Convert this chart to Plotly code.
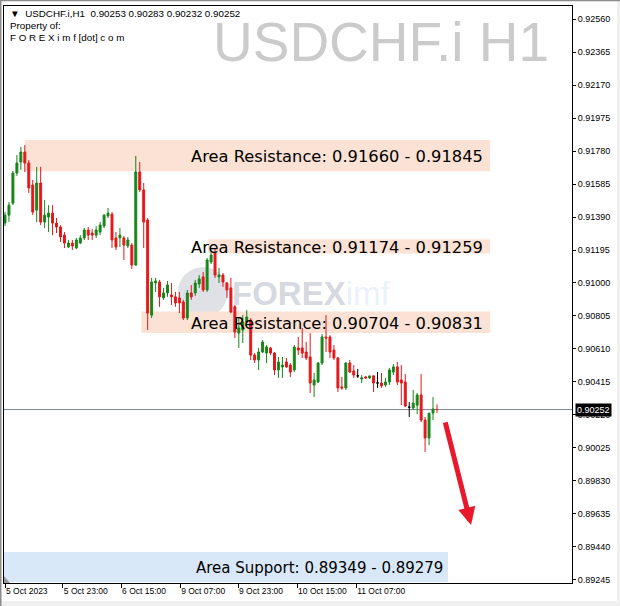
import plotly.graph_objects as go

# ---------------- data (USDCHF.i H1) ----------------
opens = [0.91354, 0.91401, 0.91472, 0.91650, 0.91715, 0.91774, 0.91709, 0.91579, 0.91431, 0.91591,
         0.91360, 0.91390, 0.91413, 0.91354, 0.91331, 0.91283, 0.91213, 0.91236, 0.91207, 0.91236,
         0.91266, 0.91313, 0.91295, 0.91283, 0.91301, 0.91337, 0.91396, 0.91407, 0.91266, 0.91266,
         0.91266, 0.91219, 0.91224, 0.91106, 0.91656, 0.91550, 0.91372, 0.90810, 0.91000, 0.91006,
         0.90912, 0.90941, 0.90929, 0.90918, 0.90912, 0.90888, 0.90793, 0.90941, 0.90941, 0.90994,
         0.91036, 0.90959, 0.91124, 0.91177, 0.91036, 0.91047, 0.91000, 0.90971, 0.90859, 0.90704,
         0.90722, 0.90769, 0.90781, 0.90574, 0.90545, 0.90592, 0.90586, 0.90616, 0.90586, 0.90486,
         0.90504, 0.90533, 0.90515, 0.90486, 0.90616, 0.90616, 0.90592, 0.90563, 0.90397, 0.90415,
         0.90527, 0.90681, 0.90681, 0.90604, 0.90557, 0.90386, 0.90380, 0.90527, 0.90480, 0.90451,
         0.90433, 0.90445, 0.90439, 0.90451, 0.90409, 0.90409, 0.90397, 0.90415, 0.90474, 0.90504,
         0.90427, 0.90415, 0.90266, 0.90261, 0.90278, 0.90338, 0.90190, 0.90084, 0.90231, 0.90253]
highs = [0.91419, 0.91478, 0.91662, 0.91756, 0.91804, 0.91815, 0.91727, 0.91609, 0.91686, 0.91686,
         0.91490, 0.91460, 0.91460, 0.91384, 0.91342, 0.91301, 0.91254, 0.91254, 0.91266, 0.91283,
         0.91325, 0.91331, 0.91319, 0.91337, 0.91360, 0.91407, 0.91443, 0.91419, 0.91301, 0.91325,
         0.91278, 0.91272, 0.91236, 0.91751, 0.91715, 0.91591, 0.91384, 0.91030, 0.91030, 0.91018,
         0.90971, 0.91012, 0.91000, 0.90947, 0.90947, 0.90900, 0.90959, 0.90988, 0.91018, 0.91047,
         0.91065, 0.91148, 0.91195, 0.91207, 0.91089, 0.91059, 0.91006, 0.91030, 0.90870, 0.90793,
         0.90810, 0.90840, 0.90793, 0.90586, 0.90616, 0.90663, 0.90633, 0.90622, 0.90592, 0.90563,
         0.90563, 0.90557, 0.90527, 0.90633, 0.90681, 0.90734, 0.90651, 0.90704, 0.90468, 0.90533,
         0.90698, 0.90810, 0.90692, 0.90633, 0.90563, 0.90445, 0.90533, 0.90545, 0.90515, 0.90492,
         0.90456, 0.90451, 0.90451, 0.90456, 0.90474, 0.90468, 0.90439, 0.90498, 0.90521, 0.90533,
         0.90515, 0.90462, 0.90296, 0.90368, 0.90350, 0.90462, 0.90208, 0.90231, 0.90326, 0.90283]
lows = [0.91337, 0.91360, 0.91460, 0.91633, 0.91668, 0.91656, 0.91532, 0.91401, 0.91360, 0.91342,
        0.91325, 0.91301, 0.91283, 0.91295, 0.91242, 0.91207, 0.91207, 0.91195, 0.91201, 0.91230,
        0.91254, 0.91254, 0.91254, 0.91266, 0.91283, 0.91325, 0.91384, 0.91207, 0.91195, 0.91213,
        0.91136, 0.91207, 0.91083, 0.91101, 0.91538, 0.91207, 0.90722, 0.90793, 0.90947, 0.90859,
        0.90900, 0.90918, 0.90870, 0.90859, 0.90822, 0.90781, 0.90781, 0.90900, 0.90924, 0.90971,
        0.90947, 0.90947, 0.91112, 0.91030, 0.91000, 0.90977, 0.90912, 0.90822, 0.90675, 0.90616,
        0.90645, 0.90763, 0.90545, 0.90527, 0.90486, 0.90586, 0.90527, 0.90574, 0.90456, 0.90439,
        0.90439, 0.90498, 0.90445, 0.90474, 0.90574, 0.90557, 0.90545, 0.90350, 0.90327, 0.90409,
        0.90515, 0.90592, 0.90557, 0.90545, 0.90356, 0.90368, 0.90368, 0.90468, 0.90439, 0.90439,
        0.90409, 0.90433, 0.90433, 0.90356, 0.90380, 0.90380, 0.90386, 0.90397, 0.90456, 0.90397,
        0.90278, 0.90266, 0.90208, 0.90249, 0.90225, 0.90178, 0.90001, 0.90042, 0.90190, 0.90232]
closes = [0.91401, 0.91460, 0.91650, 0.91709, 0.91774, 0.91709, 0.91562, 0.91419, 0.91591, 0.91360,
          0.91401, 0.91413, 0.91354, 0.91331, 0.91272, 0.91236, 0.91236, 0.91219, 0.91254, 0.91266,
          0.91313, 0.91283, 0.91283, 0.91313, 0.91342, 0.91401, 0.91413, 0.91254, 0.91213, 0.91283,
          0.91224, 0.91254, 0.91106, 0.91656, 0.91550, 0.91360, 0.90822, 0.91006, 0.91012, 0.90918,
          0.90941, 0.90988, 0.90918, 0.90882, 0.90882, 0.90793, 0.90941, 0.90918, 0.91000, 0.91024,
          0.90959, 0.91136, 0.91165, 0.91047, 0.91047, 0.91006, 0.90959, 0.90828, 0.90710, 0.90734,
          0.90769, 0.90799, 0.90574, 0.90545, 0.90592, 0.90651, 0.90622, 0.90586, 0.90486, 0.90533,
          0.90515, 0.90504, 0.90474, 0.90622, 0.90604, 0.90586, 0.90557, 0.90409, 0.90427, 0.90527,
          0.90681, 0.90675, 0.90592, 0.90557, 0.90380, 0.90380, 0.90527, 0.90474, 0.90456, 0.90451,
          0.90439, 0.90439, 0.90451, 0.90409, 0.90409, 0.90392, 0.90415, 0.90486, 0.90504, 0.90415,
          0.90409, 0.90273, 0.90266, 0.90290, 0.90338, 0.90190, 0.90084, 0.90231, 0.90255, 0.90252]

time_tick_pos = [0, 14.6, 29.3, 44.2, 58.8, 73.7, 88.6]
time_tick_text = ["5 Oct 2023", "5 Oct 23:00", "6 Oct 15:00", "9 Oct 07:00",
                  "9 Oct 23:00", "10 Oct 15:00", "11 Oct 07:00"]

price_ticks = [0.92560, 0.92365, 0.92170, 0.91975, 0.91780, 0.91585, 0.91390, 0.91195, 0.91000,
               0.90805, 0.90610, 0.90415, 0.90220, 0.90025, 0.89830, 0.89635, 0.89440, 0.89245]
price_tick_text = ["0.92560", "0.92365", "0.92170", "0.91975", "0.91780", "0.91585", "0.91390",
                   "0.91195", "0.91000", "0.90805", "0.90610", "0.90415", "0.90220", "0.90025",
                   "0.89830", "0.89635", "0.89440", "0.89245"]

zone_labels = ["Area Resistance: 0.91660 - 0.91845", "Area Resistance: 0.91174 - 0.91259",
               "Area Resistance: 0.90704 - 0.90831", "Area Support: 0.89349 - 0.89279"]
zone_low = [0.91660, 0.91174, 0.90704, 0.89233]
zone_high = [0.91845, 0.91259, 0.90831, 0.89410]
zone_start = [5.0, 51.3, 34.4, -0.25]
zone_end = [122.4, 122.4, 122.4, 111.8]
zone_kind = ["res", "res", "res", "sup"]

current_price = 0.90252
arrow_from = (111.0, 0.90185)
arrow_to = (117.6, 0.89570)

symbol_title = "USDCHF.i,H1  0.90253 0.90283 0.90232 0.90252"
watermark = "USDCHF.i H1"

# ---------------- styling ----------------
GREEN = "#17861a"
RED = "#e3181b"
RES_FILL = "#fbe2d4"
SUP_FILL = "#d9e8f8"
AX_FONT = dict(family="Liberation Sans, Arial, sans-serif", size=9, color="#000000")
X_FONT = dict(family="Liberation Sans, Arial, sans-serif", size=8.5, color="#000000")

W, H = 620, 606
ML, MR, MT, MB = 4, 48, 6, 23
X_RANGE = [-0.252, 143.07]
Y_RANGE = [0.89227, 0.92637]

idx = list(range(len(opens)))
main_i = [i for i in idx if opens[i] != closes[i]]
doji_i = [i for i in idx if opens[i] == closes[i]]

fig = go.Figure()
fig.add_trace(go.Candlestick(
    x=[i for i in main_i],
    open=[opens[i] for i in main_i], high=[highs[i] for i in main_i],
    low=[lows[i] for i in main_i], close=[closes[i] for i in main_i],
    increasing=dict(line=dict(color=GREEN, width=1), fillcolor=GREEN),
    decreasing=dict(line=dict(color=RED, width=1), fillcolor=RED),
    whiskerwidth=0, showlegend=False, hoverinfo="skip"))
fig.add_trace(go.Candlestick(
    x=[i for i in doji_i],
    open=[opens[i] for i in doji_i], high=[highs[i] for i in doji_i],
    low=[lows[i] for i in doji_i], close=[closes[i] for i in doji_i],
    increasing=dict(line=dict(color="#000000", width=1), fillcolor="#000000"),
    decreasing=dict(line=dict(color="#000000", width=1), fillcolor="#000000"),
    whiskerwidth=0, showlegend=False, hoverinfo="skip"))

shapes = []
annotations = []

# zones
for lab, lo, hi, x0, x1, kind in zip(zone_labels, zone_low, zone_high, zone_start, zone_end, zone_kind):
    shapes.append(dict(type="rect", xref="x", yref="y", x0=x0, x1=x1, y0=lo, y1=hi,
                       fillcolor=RES_FILL if kind == "res" else SUP_FILL,
                       line=dict(width=0), layer="below"))
    x_right = (485 - ML) / 568 if kind == "res" else (445 - ML) / 568
    annotations.append(dict(text=lab, xref="paper", yref="y", x=x_right, y=(lo + hi) / 2,
                            xanchor="right", yanchor="middle", showarrow=False, yshift=-1,
                            font=dict(family="DejaVu Sans, sans-serif",
                                      size=16.3 if kind == "res" else 15.0, color="#000000")))

# current price line
shapes.append(dict(type="line", xref="paper", yref="y", x0=0, x1=1, y0=current_price, y1=current_price,
                   line=dict(color="#7d8895", width=1), layer="below"))

# logo circle (watermark)
shapes.append(dict(type="circle", xref="paper", yref="paper", x0=0.3063, x1=0.3944, y0=0.4610, y1=0.5477,
                   fillcolor="rgba(196,200,212,0.55)", line=dict(width=0), layer="below"))

# small scroll triangle bottom-left
shapes.append(dict(type="path", xref="paper", yref="paper",
                   path="M 0,0 L 0.0106,0 L 0,0.0121 Z", fillcolor="#9a9a9a", line=dict(width=0)))

# window frame strips (paper pixels)
def px_rect(x0, y0, x1, y1, color):
    return dict(type="rect", xref="paper", yref="paper",
                x0=(x0 - ML) / 568, x1=(x1 - ML) / 568,
                y0=(583 - y1) / 577, y1=(583 - y0) / 577,
                fillcolor=color, line=dict(width=0), layer="above")

shapes.append(px_rect(0, 601, 620, 606, "#f0f0f0"))
shapes.append(px_rect(617, 0, 620, 606, "#f0f0f0"))
shapes.append(px_rect(0, 0, 1.5, 606, "#8c8c8c"))
shapes.append(px_rect(0, 0, 620, 1.2, "#8c8c8c"))

# arrow
annotations.append(dict(x=arrow_to[0], y=arrow_to[1], ax=arrow_from[0], ay=arrow_from[1],
                        xref="x", yref="y", axref="x", ayref="y", text="", showarrow=True,
                        arrowhead=2, arrowsize=0.7, arrowwidth=5, arrowcolor="#e8192c"))

# header texts
HDR_FONT = dict(family="Liberation Sans, Arial, sans-serif", size=9.8, color="#000000")
annotations.append(dict(text="\u25BC  " + symbol_title, xref="paper", yref="paper", x=0, y=1,
                        xanchor="left", yanchor="middle", xshift=4, yshift=-7, showarrow=False,
                        font=HDR_FONT))
annotations.append(dict(text="Property of:", xref="paper", yref="paper", x=0, y=1,
                        xanchor="left", yanchor="middle", xshift=4, yshift=-19, showarrow=False,
                        font=HDR_FONT))
annotations.append(dict(text="F O R E X i m f [dot] c o m", xref="paper", yref="paper", x=0, y=1,
                        xanchor="left", yanchor="middle", xshift=4, yshift=-31, showarrow=False,
                        font=HDR_FONT))

# big symbol watermark
annotations.append(dict(text=watermark, xref="paper", yref="paper", x=1, y=1,
                        xanchor="right", yanchor="middle", xshift=-21, yshift=-36, showarrow=False,
                        font=dict(family="Liberation Sans, Arial, sans-serif", size=55, color="#cbcbcb")))

# logo text
annotations.append(dict(text="<b>FOREX</b><span style='color:rgba(120,170,225,0.45)'>imf</span>",
                        xref="paper", yref="paper", x=(230 - ML) / 568, y=(583 - 293) / 577,
                        xanchor="left", yanchor="middle", showarrow=False,
                        font=dict(family="Liberation Sans, Arial, sans-serif", size=33,
                                  color="rgba(150,156,176,0.40)")))

# current price box
annotations.append(dict(text=f"{current_price:.5f}", xref="paper", yref="y", x=1, y=current_price,
                        xanchor="left", yanchor="middle", xshift=3, showarrow=False,
                        bgcolor="#000000", borderpad=1,
                        font=dict(family="Liberation Sans, Arial, sans-serif", size=9, color="#ffffff")))

fig.update_layout(
    width=W, height=H, margin=dict(l=ML, r=MR, t=MT, b=MB, autoexpand=False),
    paper_bgcolor="#ffffff", plot_bgcolor="#ffffff",
    showlegend=False, shapes=shapes, annotations=annotations,
    xaxis=dict(range=X_RANGE, type="linear", rangeslider=dict(visible=False),
               tickvals=time_tick_pos, ticktext=time_tick_text, ticks="outside", ticklen=4,
               tickcolor="#000000", tickwidth=1, ticklabelposition="outside right", tickangle=0,
               showline=True, linecolor="#000000", linewidth=1, mirror=True,
               showgrid=False, zeroline=False, tickfont=X_FONT, fixedrange=True),
    yaxis=dict(range=Y_RANGE, side="right", tickvals=price_ticks, ticktext=price_tick_text,
               ticks="outside", ticklen=3, tickcolor="#000000", tickwidth=1,
               showline=True, linecolor="#000000", linewidth=1, mirror=True,
               showgrid=False, zeroline=False, tickfont=AX_FONT, fixedrange=True),
)

fig.write_html("out.html", config={"displayModeBar": False},
               post_script="document.body.style.margin='0px';document.body.style.overflow='hidden';")
